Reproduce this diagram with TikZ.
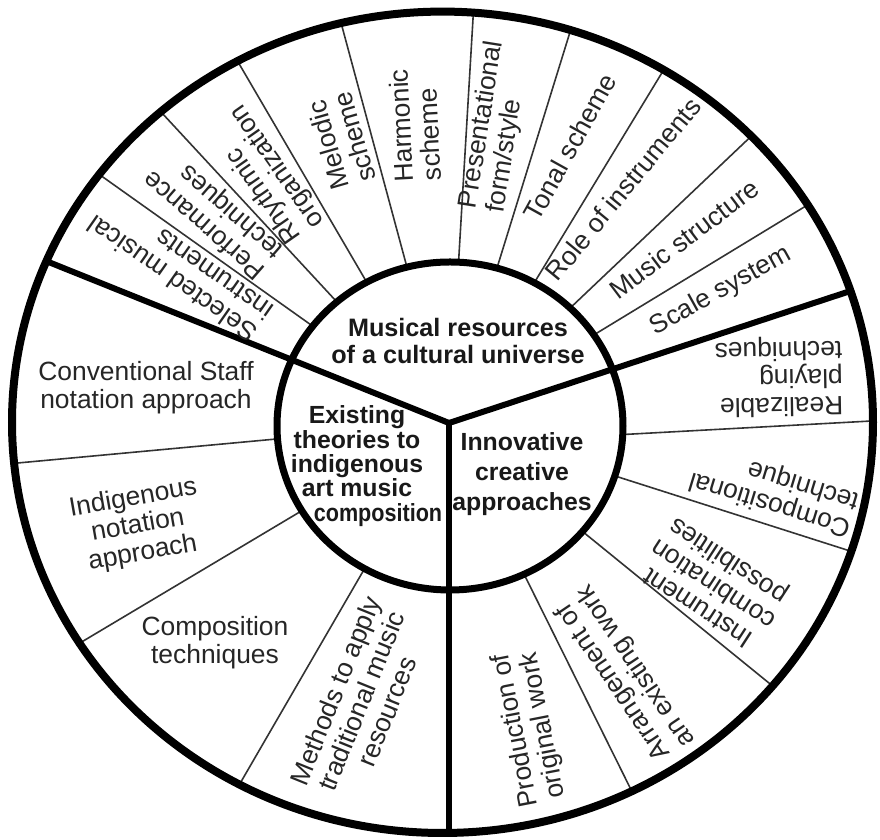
\documentclass[tikz,border=0pt]{standalone}
\usepackage{fontspec}
\setmainfont{Liberation Sans}
\begin{document}
\begin{tikzpicture}[x=0.5pt,y=0.5pt,
  thinsep/.style={line width=0.8pt, black!80},
  thicksep/.style={line width=3pt, black, line cap=round},
  rim/.style={line width=4pt, black},
  hub/.style={line width=3.5pt, black},
  lbl/.style={font=\fontsize{13.2}{13.9}\selectfont, text=black!85, inner sep=0pt},
  hubtxt/.style={font=\fontsize{12.6}{13.5}\selectfont\bfseries, text=black!90, inner sep=0pt, align=center}]
\useasboundingbox (0,0) rectangle (880,840);
\fill[white] (0,0) rectangle (880,840);

% centres of the rim, the hub and the three-way junction
\coordinate (O) at (442.5,417.7);
\coordinate (C) at (450,414);
\coordinate (J) at (449,417);
\coordinate (rA) at (600,404.2);
\coordinate (rB) at (890,420);

\begin{scope}
  \clip (O) ellipse [x radius=430.5, y radius=410.7];
  % thin spokes between the outer items
  \foreach \a in {31.3,43.5,58.7,72.8,86.6,105.1,120.3,132.8,144.6,
                  185.3,210.8,239.9,296.4,320.9,342.3}
    \draw[thinsep] (J) -- ++(\a:600);
  \draw[thinsep] (rA) -- (rB);
  % hub covers the inner ends of the spokes
  \fill[white] (C) ellipse [x radius=173, y radius=164];
  % the three main dividers
  \foreach \a in {158.1,18.2,270}
    \draw[thicksep] (J) -- ++(\a:600);
\end{scope}
\draw[hub] (C) ellipse [x radius=173, y radius=164];
\draw[rim] (O) ellipse [x radius=430.5, y radius=410.7];

% hub texts
\node[hubtxt] (res) at (458,499) {Musical resources\\of a cultural universe};
\node[hubtxt, font=\fontsize{12.4}{12.2}\selectfont\bfseries] (exi) at (357,374)
  {Existing\\theories to\\indigenous\\art music\\\hspace*{21pt}\scalebox{0.87}[1]{composition}};
\node[hubtxt, font=\fontsize{12.4}{15}\selectfont\bfseries] (inn) at (522,366)
  {Innovative\\creative\\approaches};

% musical resources
\node[lbl, align=left, rotate=145] (sel) at (180,572) {Selected musical\\instruments};
\node[lbl, align=left, rotate=139] (perf) at (214,626) {Performance\\techniques};
\node[lbl, align=left, rotate=125] (rhy) at (266,666) {Rhythmic\\organization};
\node[lbl, align=left, rotate=106] (mel) at (341,699) {Melodic\\scheme};
\node[lbl, align=left, rotate=93] (har) at (415,715) {Harmonic\\scheme};
\node[lbl, align=left, rotate=81] (pres) at (496,713) {Presentational\\form/style};
\node[lbl, rotate=61] (ton) at (570,693) {Tonal scheme};
\node[lbl, rotate=50.5] (role) at (623,651) {Role of instruments};
\node[lbl, rotate=37] (mstr) at (684,601) {Music structure};
\node[lbl, rotate=29] (scl) at (721,549) {Scale system};

% innovative creative approaches
\node[lbl, align=left, rotate=181] (real) at (779,463) {Realizable\\playing\\techniques};
\node[lbl, align=left, rotate=163] (cmp) at (774,350) {Compositional\\technique};
\node[lbl, align=center, rotate=147] (ins) at (714,257) {Instrument\\combination\\possibilities};
\node[lbl, align=center, rotate=124] (arr) at (625,166) {Arrangement of\\an existing work};
\node[lbl, align=center, rotate=101] (prod) at (530,112) {Production of\\original work};

% existing theories
\node[lbl, align=center, rotate=68] (meth) at (361,139) {Methods to apply\\traditional music\\resources};
\node[lbl, align=center] (ctec) at (215,197) {Composition\\techniques};
\node[lbl, align=center, rotate=10] (ind) at (138,314) {Indigenous\\notation\\approach};
\node[lbl, align=center] (conv) at (146,452) {Conventional Staff\\notation approach};
\end{tikzpicture}
\end{document}
